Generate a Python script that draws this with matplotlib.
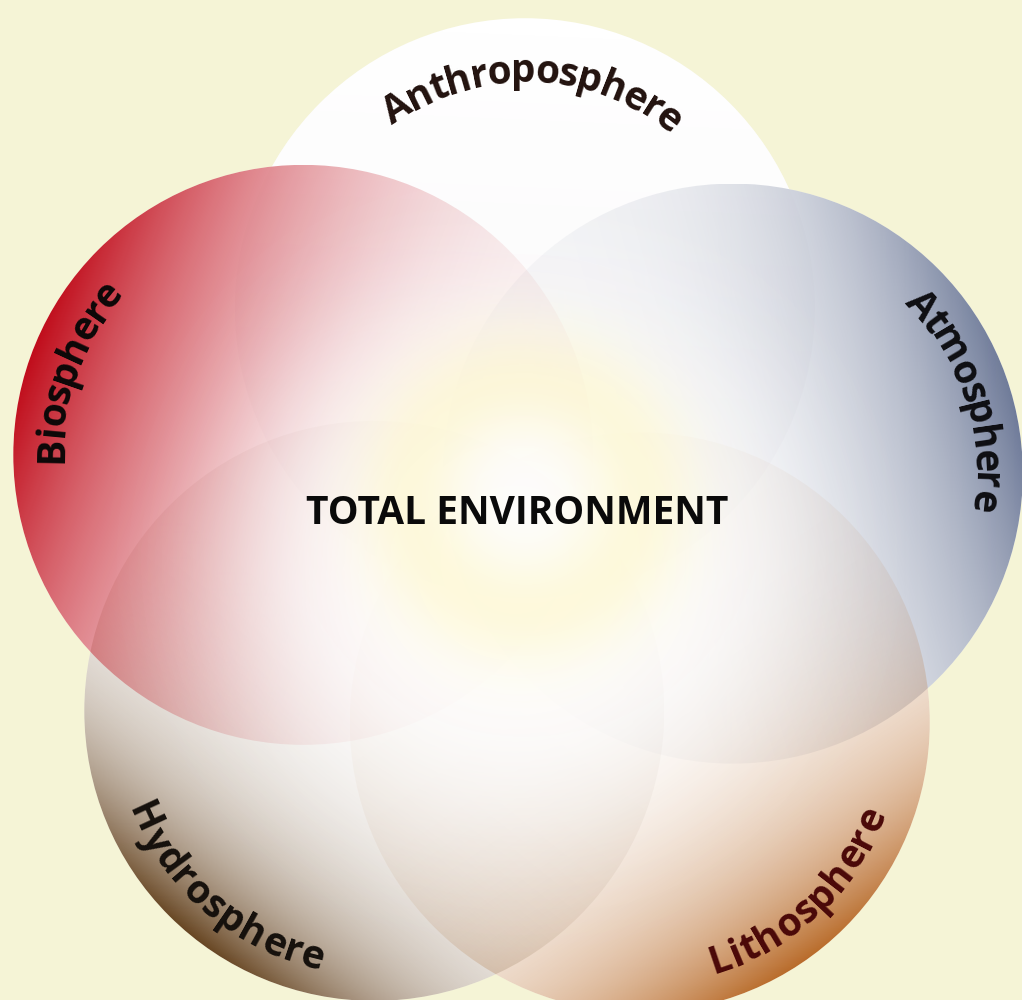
import numpy as np
import matplotlib.pyplot as plt
from matplotlib.patches import Circle
from matplotlib.colors import to_rgb
from matplotlib.font_manager import FontProperties

# spheres, going clockwise from the top
spheres = ["Anthroposphere", "Atmosphere", "Lithosphere", "Hydrosphere", "Biosphere"]
centre_label = "TOTAL ENVIRONMENT"

# styling / layout
edge_colors = ["#cfc8d0", "#6e7a98", "#b86a28", "#664420", "#c00c1a"]
fade_power = [1.0, 3.5, 4.5, 5.5, 2.4]
text_colors = ["#22120e", "#0e0e12", "#4a0808", "#15100c", "#0c0808"]
label_angle = [88, 18, -47, 230, 160]      # where each label is centred on its circle
label_radius = [226, 241, 262, 265, 241]   # baseline radius of each label
label_side = ["top", "top", "bottom", "bottom", "top"]
bg = "#f5f4d6"

W, H = 1022, 1000
CX, CY = 515, 534      # centre of the flower
D, R = 226, 290        # distance of circle centres, circle radius
start, step = 87.5, -72.0

fig = plt.figure(figsize=(W / 100, H / 100), dpi=100)
fig.patch.set_facecolor(bg)
ax = fig.add_axes([0, 0, 1, 1])
ax.set_facecolor(bg)

centres = []
for k in range(len(spheres)):
    a = np.radians(start + step * k)
    centres.append((CX + D * np.cos(a), CY - D * np.sin(a), a))

# white base for every circle
for cx, cy, a in centres:
    ax.add_patch(Circle((cx, cy), R, facecolor="white", edgecolor="none", zorder=1))

# coloured gradient layer of each circle
for k, (cx, cy, a) in enumerate(centres):
    xs = np.arange(cx - R, cx + R, 1.0)
    ys = np.arange(cy - R, cy + R, 1.0)
    X, Y = np.meshgrid(xs, ys)
    proj = (X - CX) * np.cos(a) - (Y - CY) * np.sin(a)
    t = np.clip(proj / (D + R), 0, 1)
    rgba = np.zeros(X.shape + (4,))
    rgba[..., :3] = to_rgb(edge_colors[k])
    if k == 0:
        # anthroposphere stays white, only a faint grey towards the middle
        rgba[..., 3] = 0.12 * (1 - t)
    else:
        rgba[..., 3] = 0.07 + 0.93 * t ** fade_power[k]
    im = ax.imshow(rgba, extent=(cx - R, cx + R, cy + R, cy - R), origin="upper",
                   interpolation="bilinear", zorder=2)
    im.set_clip_path(Circle((cx, cy), R, transform=ax.transData))

# central glow: white core with a soft yellow ring
xs = np.arange(0, W, 1.0)
ys = np.arange(0, H, 1.0)
X, Y = np.meshgrid(xs, ys)
d = np.hypot(X - 515, Y - 560)
glow = np.zeros(X.shape + (4,))
glow[..., :3] = 1.0
glow[..., 3] = 0.97 * np.exp(-(d / 275.0) ** 4)
ax.imshow(glow, extent=(0, W, H, 0), origin="upper", interpolation="bilinear", zorder=3)
dy = np.hypot(X - 525, Y - 495)
ring = np.zeros(X.shape + (4,))
ring[..., :3] = to_rgb("#fff29a")
ring[..., 3] = 0.33 * np.exp(-((dy - 115) / 60.0) ** 2)
ax.imshow(ring, extent=(0, W, H, 0), origin="upper", interpolation="bilinear", zorder=3)

ax.set_xlim(0, W)
ax.set_ylim(H, 0)
ax.set_aspect("auto")
ax.axis("off")

renderer = fig.canvas.get_renderer()
prop = FontProperties(family="Open Sans", weight="bold", size=28)


def arc_text(text, cx, cy, radius, centre_deg, side, color):
    widths = [0.0]
    for i in range(1, len(text) + 1):
        widths.append(renderer.get_text_width_height_descent(text[:i], prop, ismath=False)[0])
    total = widths[-1]
    size_px = prop.get_size_in_points() * 100 / 72
    rs = radius + 0.35 * size_px if side == "top" else radius - 0.35 * size_px
    for i, ch in enumerate(text):
        mid = (widths[i] + widths[i + 1]) / 2 - total / 2
        dth = np.degrees(mid / rs)
        if side == "top":
            ang = centre_deg - dth
            rot = ang - 90
        else:
            ang = centre_deg + dth
            rot = ang + 90
        x = cx + radius * np.cos(np.radians(ang))
        y = cy - radius * np.sin(np.radians(ang))
        ax.text(x, y, ch, rotation=rot, rotation_mode="anchor", ha="center", va="baseline",
                fontproperties=prop, color=color, zorder=5)


for k, (cx, cy, a) in enumerate(centres):
    arc_text(spheres[k], cx, cy, label_radius[k], label_angle[k], label_side[k], text_colors[k])

ax.text(517, 513, centre_label, ha="center", va="center", fontproperties=prop,
        color="#0a0a0a", zorder=5)

fig.savefig("out.png", dpi=100, facecolor=bg)
